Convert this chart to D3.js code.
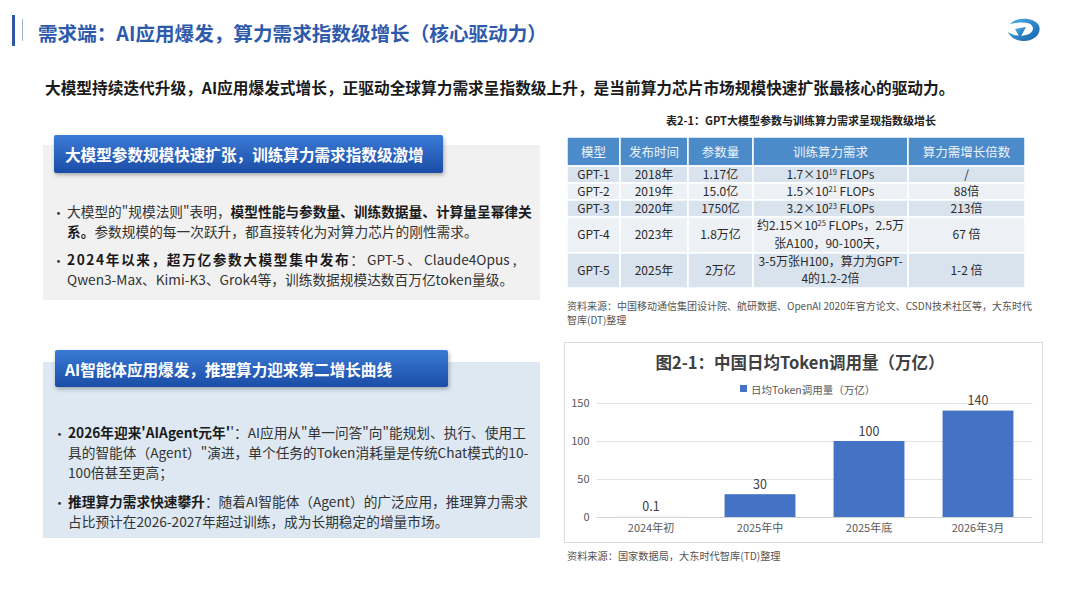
<!DOCTYPE html>
<html lang="zh-CN">
<head>
<meta charset="UTF-8">
<title>需求端：AI应用爆发</title>
<script src="https://cdn.jsdelivr.net/npm/d3@7/dist/d3.min.js"></script>
<style>
  html, body { margin: 0; padding: 0; background: #fff; }
  svg text { font-family: "Noto Sans CJK SC", "Noto Sans", sans-serif; }
</style>
</head>
<body>
<div id="container"></div>
<script>
// ---- data ----
var categories = ["2024年初", "2025年中", "2025年底", "2026年3月"];
var tokenValues = [0.1, 30, 100, 140];
var yTicks = [0, 50, 100, 150];
var legendLabel = "日均Token调用量（万亿）";

var tableHeaders = ["模型", "发布时间", "参数量", "训练算力需求", "算力需增长倍数"];
var models = ["GPT-1", "GPT-2", "GPT-3", "GPT-4", "GPT-5"];
var releaseYears = ["2018年", "2019年", "2020年", "2023年", "2025年"];
var paramSizes = ["1.17亿", "15.0亿", "1750亿", "1.8万亿", "2万亿"];
var computeNeeds = [
  ["1.7×10^19 FLOPs"],
  ["1.5×10^21 FLOPs"],
  ["3.2×10^23 FLOPs"],
  ["约2.15×10^25 FLOPs，2.5万", "张A100，90-100天，"],
  ["3-5万张H100，算力为GPT-", "4的1.2-2倍"]
];
var growthMultiples = ["/", "88倍", "213倍", "67 倍", "1-2 倍"];

var width = 1080, height = 608;
var svg = d3.select("#container").append("svg")
    .attr("width", width)
    .attr("height", height);

var defs = svg.append("defs");
var bannerGrad = defs.append("linearGradient").attr("id", "banner").attr("x1", 0).attr("y1", 0).attr("x2", 0).attr("y2", 1);
bannerGrad.append("stop").attr("offset", "0%").attr("stop-color", "#3a7ad6");
bannerGrad.append("stop").attr("offset", "100%").attr("stop-color", "#1b4da6");
var shadow = defs.append("filter").attr("id", "shadow").attr("x", "-5%").attr("y", "-20%").attr("width", "110%").attr("height", "160%");
shadow.append("feDropShadow").attr("dx", 1).attr("dy", 2).attr("stdDeviation", 2).attr("flood-color", "#000").attr("flood-opacity", 0.3);
var logoGrad = defs.append("linearGradient").attr("id", "logo").attr("x1", 0).attr("y1", 0).attr("x2", 1).attr("y2", 1);
logoGrad.append("stop").attr("offset", "0%").attr("stop-color", "#4fb0e6");
logoGrad.append("stop").attr("offset", "100%").attr("stop-color", "#1660a8");

// one bullet paragraph: lines is a list of segment lists, segment = [text, bold, letterSpacing]
function paragraph(g, x, y, lh, lines, size) {
  g.append("text").attr("x", x - 15).attr("y", y).attr("dominant-baseline", "central")
      .style("font-size", "13px").attr("fill", "#333").text("•");
  var t = g.append("text").attr("x", x).attr("y", y)
      .style("font-size", size + "px")
      .attr("fill", "#333");
  lines.forEach(function(segs, k) {
    var line = t.append("tspan").attr("x", x).attr("dy", k === 0 ? "0.35em" : lh);
    segs.forEach(function(s) {
      var ts = line.append("tspan").text(s[0]);
      if (s[1]) ts.style("font-weight", "bold").attr("fill", "#1a1a1a");
      if (s[2]) ts.style("letter-spacing", s[2] + "px");
    });
  });
  return t;
}

// ---- title ----
svg.append("rect").attr("x", 12).attr("y", 15).attr("width", 3).attr("height", 31).attr("fill", "#2c57a6");
svg.append("rect").attr("x", 22).attr("y", 19).attr("width", 1).attr("height", 22).attr("fill", "#9fb6d8");
svg.append("text").attr("x", 38).attr("y", 32)
    .attr("dominant-baseline", "central")
    .style("font-size", "19.6px").style("font-weight", "bold")
    .attr("fill", "#2e5aab")
    .text("需求端：AI应用爆发，算力需求指数级增长（核心驱动力）");

// logo
var logo = svg.append("g").attr("transform", "translate(1024,30)");
logo.append("path")
    .attr("d", "M-14,-6 C-8,-13 8,-13 14,-6 C19,1 12,11 0,11 C-8,11 -14,7 -16,2 C-10,6 -2,7 5,4 C11,1 10,-6 3,-7 C-3,-8 -9,-7 -14,-6 Z")
    .attr("fill", "url(#logo)");
logo.append("path")
    .attr("d", "M-9,-1 L2,-3 L-4,8 Z")
    .attr("fill", "url(#logo)");

svg.append("text").attr("x", 45).attr("y", 87)
    .attr("dominant-baseline", "central")
    .style("font-size", "15.7px").style("font-weight", "bold")
    .attr("fill", "#1a1a1a")
    .text("大模型持续迭代升级，AI应用爆发式增长，正驱动全球算力需求呈指数级上升，是当前算力芯片市场规模快速扩张最核心的驱动力。");

// ---- left panel 1 ----
var fs = 13.7, lineGap = 20;
var p1 = svg.append("g");
p1.append("rect").attr("x", 43).attr("y", 145).attr("width", 497).attr("height", 155).attr("fill", "#f1f1f2");
p1.append("rect").attr("x", 54).attr("y", 135).attr("width", 389).attr("height", 38).attr("rx", 2)
    .attr("fill", "url(#banner)").attr("filter", "url(#shadow)");
p1.append("text").attr("x", 65).attr("y", 154).attr("dominant-baseline", "central")
    .style("font-size", "15.6px").style("font-weight", "bold").attr("fill", "#fff")
    .text("大模型参数规模快速扩张，训练算力需求指数级激增");

paragraph(p1, 67, 212, lineGap, [
  [["大模型的\"规模法则\"表明，"], ["模型性能与参数量、训练数据量、计算量呈幂律关", true]],
  [["系。", true], ["参数规模的每一次跃升，都直接转化为对算力芯片的刚性需求。"]]
], fs);
paragraph(p1, 67, 260, lineGap, [
  [["2024年以来，超万亿参数大模型集中发布", true, 1.6], ["： GPT-5 、 Claude4Opus ,"]],
  [["Qwen3-Max、Kimi-K3、Grok4等，训练数据规模达数百万亿token量级。"]]
], fs);

// ---- left panel 2 ----
var p2 = svg.append("g");
p2.append("rect").attr("x", 43).attr("y", 362).attr("width", 497).attr("height", 176).attr("fill", "#dde8f2");
p2.append("rect").attr("x", 55).attr("y", 350).attr("width", 393).attr("height", 37).attr("rx", 2)
    .attr("fill", "url(#banner)").attr("filter", "url(#shadow)");
p2.append("text").attr("x", 65).attr("y", 369).attr("dominant-baseline", "central")
    .style("font-size", "15.6px").style("font-weight", "bold").attr("fill", "#fff")
    .text("AI智能体应用爆发，推理算力迎来第二增长曲线");

paragraph(p2, 68, 433, lineGap, [
  [["2026年迎来'AIAgent元年'", true], ["'：AI应用从\"单一问答\"向\"能规划、执行、使用工"]],
  [["具的智能体（Agent）\"演进，单个任务的Token消耗量是传统Chat模式的10-"]],
  [["100倍甚至更高；"]]
], fs);
paragraph(p2, 68, 502, lineGap, [
  [["推理算力需求快速攀升", true], ["：随着AI智能体（Agent）的广泛应用，推理算力需求"]],
  [["占比预计在2026-2027年超过训练，成为长期稳定的增量市场。"]]
], fs);

// ---- table ----
var tbl = svg.append("g");
tbl.append("text").attr("x", 801).attr("y", 120).attr("text-anchor", "middle").attr("dominant-baseline", "central")
    .style("font-size", "11px").style("font-weight", "bold").attr("fill", "#222")
    .text("表2-1：GPT大模型参数与训练算力需求呈现指数级增长");

var colEdges = [567, 620, 688, 753, 908, 1025];
var rowHeights = [17, 17, 17, 36, 35];
var headerTop = 137, headerH = 29;
var rowTops = [];
rowHeights.reduce(function(acc, h) { rowTops.push(acc); return acc + h; }, headerTop + headerH);

tableHeaders.forEach(function(h, i) {
  tbl.append("rect").attr("x", colEdges[i]).attr("y", headerTop)
      .attr("width", colEdges[i + 1] - colEdges[i]).attr("height", headerH)
      .attr("fill", "#4b8bc9").attr("stroke", "#fff").attr("stroke-width", 1.5);
  tbl.append("text").attr("x", (colEdges[i] + colEdges[i + 1]) / 2).attr("y", headerTop + headerH / 2)
      .attr("text-anchor", "middle").attr("dominant-baseline", "central")
      .style("font-size", "12.5px").attr("fill", "#eef4fb").text(h);
});

// cell text; lines may hold ^nn for a superscript
function cellText(cx, yc, lines) {
  var lh = 17.5;
  var t = tbl.append("text").attr("x", cx).attr("y", yc - (lines.length - 1) * lh / 2)
      .attr("text-anchor", "middle").style("font-size", "12px").attr("fill", "#2a2a2a");
  lines.forEach(function(str, k) {
    var line = t.append("tspan").attr("x", cx).attr("dy", k === 0 ? "0.35em" : lh);
    var m = str.match(/^(.*?)\^(\d+)(.*)$/);
    if (m) {
      line.append("tspan").text(m[1]);
      line.append("tspan").attr("dy", -4).style("font-size", "7.5px").text(m[2]);
      line.append("tspan").attr("dy", 4).text(m[3]);
    } else {
      line.text(str);
    }
  });
}

models.forEach(function(m, r) {
  var y0 = rowTops[r], h = rowHeights[r];
  var rowFill = r % 2 === 0 ? "#d9e3ee" : "#edf1f6";
  var cells = [[m], [releaseYears[r]], [paramSizes[r]], computeNeeds[r], [growthMultiples[r]]];
  cells.forEach(function(lines, c) {
    tbl.append("rect").attr("x", colEdges[c]).attr("y", y0)
        .attr("width", colEdges[c + 1] - colEdges[c]).attr("height", h)
        .attr("fill", rowFill).attr("stroke", "#fff").attr("stroke-width", 1.5);
    cellText((colEdges[c] + colEdges[c + 1]) / 2, y0 + h / 2, lines);
  });
});

var src1 = tbl.append("text").attr("x", 567).attr("y", 306)
    .style("font-size", "10px").attr("fill", "#555");
src1.append("tspan").attr("x", 567).attr("dy", "0.35em")
    .text("资料来源：中国移动通信集团设计院、航研数据、OpenAI 2020年官方论文、CSDN技术社区等，大东时代");
src1.append("tspan").attr("x", 567).attr("dy", 14.6).text("智库(DT)整理");

// ---- bar chart ----
var chart = svg.append("g");
chart.append("rect").attr("x", 564.5).attr("y", 342.5).attr("width", 478).attr("height", 200)
    .attr("fill", "#fff").attr("stroke", "#dadada");
chart.append("text").attr("x", 800).attr("y", 362).attr("text-anchor", "middle").attr("dominant-baseline", "central")
    .style("font-size", "16.5px").style("font-weight", "bold").attr("fill", "#404040")
    .text("图2-1：中国日均Token调用量（万亿）");

chart.append("rect").attr("x", 740).attr("y", 385).attr("width", 7).attr("height", 7).attr("fill", "#4472c4");
chart.append("text").attr("x", 751).attr("y", 389).attr("dominant-baseline", "central")
    .style("font-size", "10.5px").attr("fill", "#595959").text(legendLabel);

var x = d3.scaleBand().domain(categories).range([596.5, 1032.5]).paddingInner(0.35).paddingOuter(0.175);
var y = d3.scaleLinear().domain([0, 150]).range([517, 403]);

var yAxis = chart.append("g").attr("transform", "translate(596.5,0)")
    .call(d3.axisLeft(y).tickValues(yTicks).tickSize(-(1032.5 - 596.5)).tickPadding(7));
yAxis.select(".domain").remove();
yAxis.selectAll(".tick line").attr("stroke", "#e3e3e3");
yAxis.selectAll(".tick text").style("font-size", "11px").attr("fill", "#595959")
    .style("font-family", "'Noto Sans CJK SC', sans-serif");
yAxis.selectAll(".tick").filter(function(d) { return d === 0; }).select("line").attr("stroke", "#d4d4d4");

var xAxis = chart.append("g").attr("transform", "translate(0,517)")
    .call(d3.axisBottom(x).tickSize(0).tickPadding(7));
xAxis.select(".domain").remove();
xAxis.selectAll(".tick text").style("font-size", "11px").attr("fill", "#595959")
    .style("font-family", "'Noto Sans CJK SC', sans-serif");

chart.selectAll(".bar").data(tokenValues)
  .enter().append("rect")
    .attr("class", "bar")
    .attr("x", function(d, i) { return x(categories[i]); })
    .attr("y", function(d) { return y(d); })
    .attr("width", x.bandwidth())
    .attr("height", function(d) { return y(0) - y(d); })
    .attr("fill", "#4472c4");

chart.selectAll(".val").data(tokenValues)
  .enter().append("text")
    .attr("class", "val")
    .attr("x", function(d, i) { return x(categories[i]) + x.bandwidth() / 2; })
    .attr("y", function(d) { return y(d) - 11; })
    .attr("text-anchor", "middle").attr("dominant-baseline", "central")
    .style("font-size", "12.5px").attr("fill", "#404040")
    .text(function(d) { return d; });

svg.append("text").attr("x", 567).attr("y", 555).attr("dominant-baseline", "central")
    .style("font-size", "10.2px").attr("fill", "#555")
    .text("资料来源：国家数据局，大东时代智库(TD)整理");
</script>
</body>
</html>
